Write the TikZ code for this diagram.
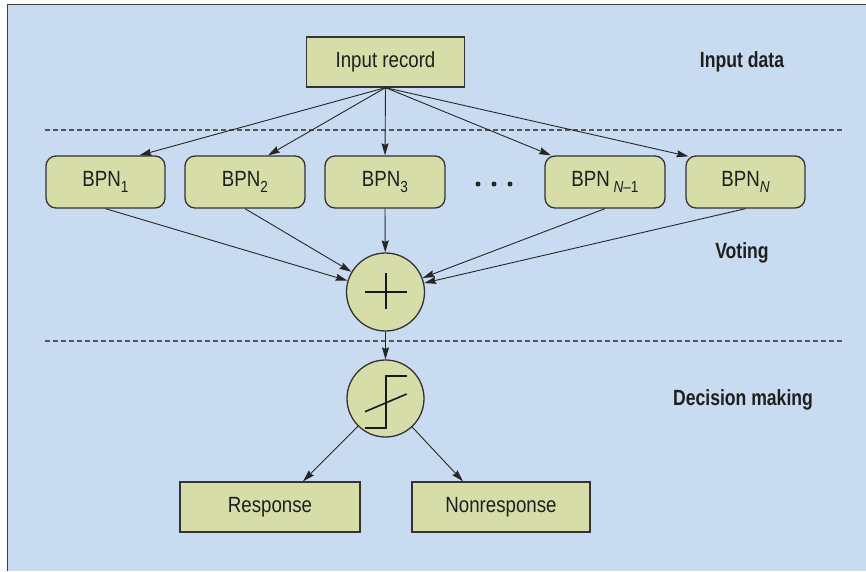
\documentclass[tikz,border=0pt]{standalone}
\usepackage{fontspec}
\setmainfont{Liberation Sans}[FakeStretch=0.85]
\newfontfamily\lblfont{Liberation Sans}[FakeStretch=0.8]
\usetikzlibrary{arrows.meta}
\definecolor{bgblue}{HTML}{C9DBF0}
\definecolor{boxfill}{HTML}{D6DDA8}
\definecolor{edgegray}{HTML}{333333}
\definecolor{dashgray}{HTML}{555555}
\newcommand\lowsub[1]{\raisebox{-0.28em}{\fontsize{16}{16}\selectfont #1}}
\tikzset{
  sqbox/.style={draw=edgegray, line width=1.3pt, fill=boxfill, inner sep=0pt,
    minimum height=50pt, font=\fontsize{22}{25}\selectfont, text=black!88},
  rbox/.style={sqbox, rounded corners=10pt, minimum height=52pt},
  opcircle/.style={circle, draw=edgegray, line width=1.3pt, fill=boxfill, inner sep=0pt},
  conn/.style={draw=black!85, line width=0.9pt, -{Stealth[length=12pt,width=7pt,inset=1.5pt]}},
  sepline/.style={draw=dashgray, line width=1.1pt, dash pattern=on 5pt off 3pt},
  sidelabel/.style={font=\lblfont\bfseries\fontsize{22}{25}\selectfont, text=black!88},
  symstroke/.style={draw=black!90, line width=1.6pt}
}
\begin{document}
\begin{tikzpicture}[x=1pt,y=-1pt]
\useasboundingbox (0,0) rectangle (866,571);
\fill[bgblue] (7.5,4.5) rectangle (866,571);
\draw[line width=1.5pt, draw=black!75] (7.5,571) -- (7.5,4.5) -- (866,4.5);

% separators
\coordinate (s1l) at (45,130);
\coordinate (s1r) at (843,130);
\coordinate (s2l) at (45,341);
\coordinate (s2r) at (843,341);
\draw[sepline] (s1l) -- (s1r);
\draw[sepline] (s2l) -- (s2r);

% nodes
\node[sqbox, minimum width=158pt] (inrec) at (385.5,62) {Input record};
\node[rbox, minimum width=119pt] (bpn1) at (105.5,182) {BPN\lowsub{1}};
\node[rbox, minimum width=120pt] (bpn2) at (245,182) {BPN\lowsub{2}};
\node[rbox, minimum width=120pt] (bpn3) at (385,182) {BPN\lowsub{3}};
\node[rbox, minimum width=120pt] (bpnm) at (605,182) {BPN\,\lowsub{\textit{N}–1}};
\node[rbox, minimum width=119pt] (bpnn) at (745.5,182) {BPN\lowsub{\textit{N}}};

\node[circle, fill=black!85, inner sep=0pt, minimum size=5pt] (d1) at (478,184) {};
\node[circle, fill=black!85, inner sep=0pt, minimum size=5pt] (d2) at (494,184) {};
\node[circle, fill=black!85, inner sep=0pt, minimum size=5pt] (d3) at (510,184) {};

\node[opcircle, minimum size=78pt] (sum) at (385.5,292) {};
\node[opcircle, minimum size=77pt] (step) at (385.5,398.5) {};

\node[sqbox, minimum width=180pt] (resp) at (270,507) {Response};
\node[sqbox, minimum width=178pt] (nonresp) at (501,507) {Nonresponse};

\node[sidelabel] (lab1) at (742,62) {Input data};
\node[sidelabel] (lab2) at (742,253) {Voting};
\node[sidelabel] (lab3) at (743,400) {Decision making};

% symbols
\draw[symstroke] (364.5,291.7) -- (406.5,291.7);
\draw[symstroke] (385.7,273.3) -- (385.7,309.3);
\draw[symstroke] (406.7,376) -- (385.7,376) -- (385.7,428) -- (365,428);
\draw[symstroke] (365,411.7) -- (406.7,394);

% connectors
\draw[conn] (inrec.south) -- ([xshift=34pt]bpn1.north);
\draw[conn] (inrec.south) -- ([xshift=23pt]bpn2.north);
\draw[conn] (inrec.south) -- (bpn3.north);
\draw[conn] (inrec.south) -- ([xshift=-54pt]bpnm.north);
\draw[conn] (inrec.south) -- ([xshift=-57pt,yshift=-1pt]bpnn.north);

\draw[conn] (bpn1.south) -- (sum);
\draw[conn] (bpn2.south) -- (sum);
\draw[conn] (bpn3.south) -- (sum);
\draw[conn] (bpnm.south) -- (sum);
\draw[conn] (bpnn.south) -- (sum);

\draw[conn] (sum.south) -- (step.north);
\draw[conn] (step) -- ([xshift=33pt]resp.north);
\draw[conn] (step) -- ([xshift=-38pt]nonresp.north);
\end{tikzpicture}
\end{document}
